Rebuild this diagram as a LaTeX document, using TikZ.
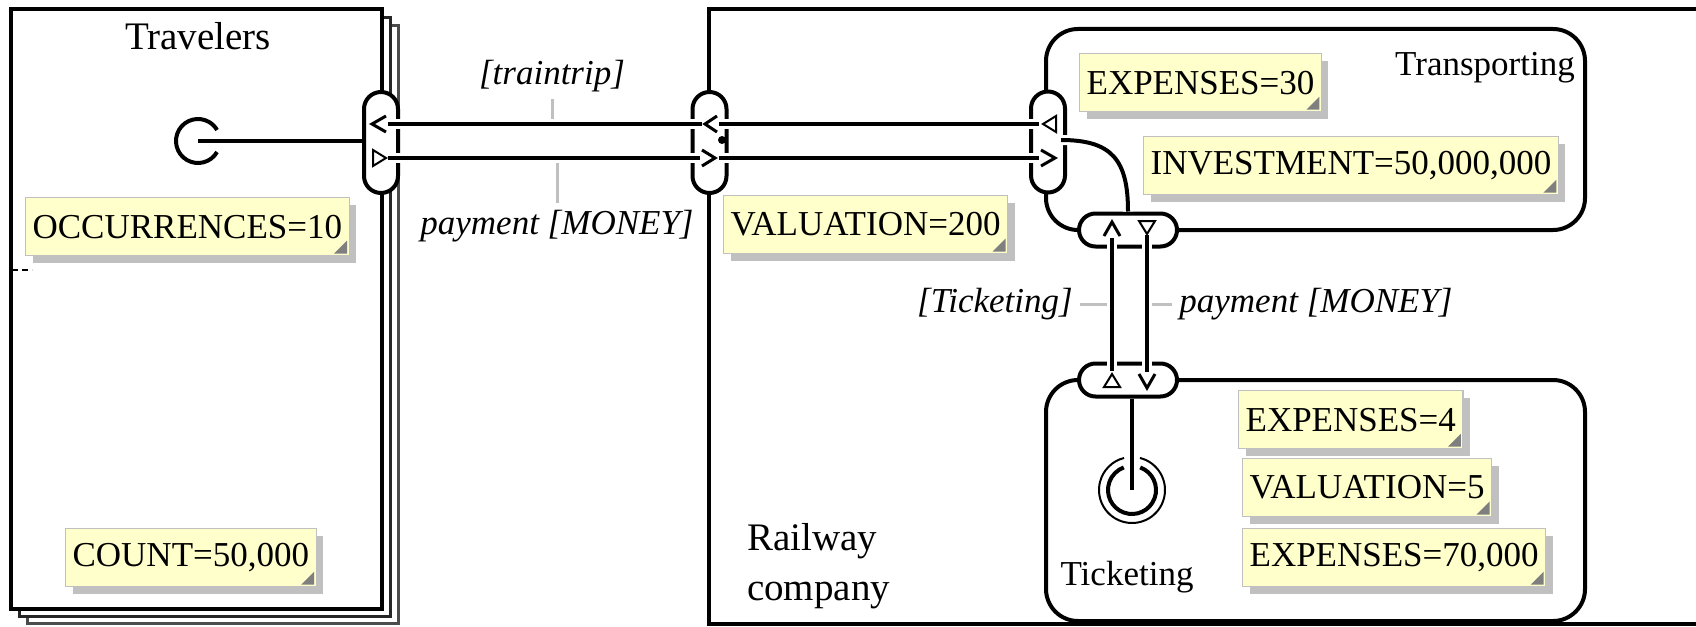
\documentclass[tikz,border=0pt]{standalone}
\usepackage{fontspec}
\setmainfont{Liberation Serif}
\usetikzlibrary{shadows,calc}
\definecolor{notefill}{HTML}{FFFFCC}
\definecolor{notegray}{HTML}{C0C0C0}
\definecolor{foldgray}{HTML}{7F7F7F}

\begin{document}
\begin{tikzpicture}[x=0.5pt,y=-0.5pt,
    every node/.style={font=\fontsize{17.5}{21}\selectfont},
    actorname/.style={font=\fontsize{19.5}{25}\selectfont},
    note/.style={draw=notegray, line width=0.6pt, fill=notefill, anchor=north west,
        inner xsep=3.5pt, minimum height=29pt,
        drop shadow={shadow xshift=3.5pt, shadow yshift=-3.5pt, fill=notegray, opacity=1},
        path picture={\fill[foldgray] ($(path picture bounding box.south east)+(-2,-15)$)
            -- ($(path picture bounding box.south east)+(-2,-2)$)
            -- ($(path picture bounding box.south east)+(-15,-2)$) -- cycle;}},
    vif/.style={draw, line width=2pt, fill=white, rounded corners=8.5pt, inner sep=0pt,
        minimum width=17pt, minimum height=50.5pt},
    hif/.style={draw, line width=2pt, fill=white, rounded corners=8.25pt, inner sep=0pt,
        minimum width=49pt, minimum height=16.5pt},
    exch/.style={line width=2pt, preaction={draw=white, line width=5pt}},
    chev/.style={line width=1.5pt},
    tri/.style={line width=1pt},
    tick/.style={draw=notegray, line width=1.5pt},
    lbl/.style={font=\fontsize{17.5}{21}\selectfont\itshape}]
    \useasboundingbox (0,0) rectangle (1696,626);

    % Travelers (market segment)
    \draw[line width=1.5pt, black!70] (27,26) rectangle (398,623);
    \draw[line width=1.5pt, black!85, fill=white] (19,18) rectangle (390,616);
    \draw[line width=2pt, fill=white] (11,9) rectangle (382,609);
    \node[actorname] (travelers) at (198,36) {Travelers};
    \draw[line width=0.6pt, dash pattern=on 3pt off 2pt] (12,270) -- (32,270);

    % Railway company
    \draw[line width=2pt] (1700,9) -- (709,9) -- (709,624) -- (1700,624);
    \node[actorname, align=left, anchor=west] (railway) at (740,566) {Railway\\company};

    % Transporting and Ticketing
    \draw[line width=2pt, rounded corners=16pt] (1046,29) rectangle (1585,230);
    \node (transporting) at (1485,68) {Transporting};
    \draw[line width=2pt, rounded corners=16pt] (1046,380) rectangle (1585,621);
    \node (ticketing) at (1127,577) {Ticketing};

    % Notes
    \node[note] (occ) at (25,197) {OCCURRENCES=10};
    \node[note] (count) at (65,528) {COUNT=50,000};
    \node[note] (val200) at (723,195) {VALUATION=200};
    \node[note] (exp30) at (1079,53) {EXPENSES=30};
    \node[note] (invest) at (1143,136) {INVESTMENT=50,000,000};
    \node[note] (exp4) at (1238,390) {EXPENSES=4};
    \node[note] (val5) at (1242,458) {VALUATION=5};
    \node[note] (exp70) at (1242,528) {EXPENSES=70,000};

    % Value interfaces
    \node[vif] (tr) at (381,142.5) {};
    \node[vif] (rc) at (709.5,142.5) {};
    \node[vif] (tp) at (1048,142) {};
    \node[hif] (tpb) at (1128,230) {};
    \node[hif] (tk) at (1128,380) {};

    % Port points
    \coordinate (tr-in) at (388,124);
    \coordinate (tr-out) at (388,158);
    \coordinate (rc-inl) at (702,124);
    \coordinate (rc-inr) at (719,124);
    \coordinate (rc-outl) at (700,158);
    \coordinate (rc-outr) at (719,158);
    \coordinate (tp-out) at (1039,124);
    \coordinate (tp-in) at (1039,158);
    \coordinate (tpb-in) at (1112,238);
    \coordinate (tpb-out) at (1147,235);
    \coordinate (tk-out) at (1112,371);
    \coordinate (tk-in) at (1147,372);

    % Labels and leaders
    \node[lbl] (traintrip) at (552,76) {[traintrip]};
    \node[lbl] (pay1) at (557,226) {payment [MONEY]};
    \node[lbl] (tkt) at (995,304) {[Ticketing]};
    \node[lbl] (pay2) at (1316,304) {payment [MONEY]};
    \draw[tick] (traintrip.south) -- (traintrip.south |- tr-in);
    \draw[tick] (pay1.north) -- (pay1.north |- tr-out);
    \draw[tick] (tkt.east) -- (tkt.east -| tk-out);
    \draw[tick] (pay2.west) -- (pay2.west -| tk-in);

    % Value exchanges
    \draw[exch] (tr-in) -- (rc-inl);
    \draw[exch] (rc-inr) -- (tp-out);
    \draw[exch] (tr-out) -- (rc-outl);
    \draw[exch] (rc-outr) -- (tp-in);
    \draw[exch] (tpb-in) -- (tk-out);
    \draw[exch] (tpb-out) -- (tk-in);

    % Ports
    \draw[chev] (386,116) -- (372,124) -- (386,132);
    \draw[tri] (373,150) -- (386,158) -- (373,166) -- cycle;
    \draw[chev] (717,116) -- (705,124) -- (717,132);
    \draw[chev] (702,150) -- (715,158) -- (702,166);
    \draw[tri] (1056,116) -- (1043,124) -- (1056,132) -- cycle;
    \draw[chev] (1041,150) -- (1055,158) -- (1041,166);
    \draw[chev] (1104,236) -- (1112,222) -- (1120,236);
    \draw[tri] (1139,221) -- (1155,221) -- (1147,234) -- cycle;
    \draw[tri] (1104,387) -- (1120,387) -- (1112,374) -- cycle;
    \draw[chev] (1139,374) -- (1147,388) -- (1155,374);
    \fill (722,140) circle[radius=4];

    % Start stimulus
    \coordinate (start) at (198,141);
    \draw[line width=2pt] (start) ++(30:22) arc[start angle=30, end angle=330, radius=22];
    \draw[exch] (start) -- (tr.west |- start);

    % Dependency path in Transporting
    \coordinate (tp-c) at (1061,140);
    \draw[exch] (tp-c) .. controls (1112,140) and (1128,160) .. (tpb.north);

    % End stimulus
    \coordinate (stop) at (1132,490);
    \draw[line width=2pt] (stop) ++(-70:24) arc[start angle=-70, end angle=250, radius=24];
    \draw[line width=1pt] (stop) ++(-76:33) arc[start angle=-76, end angle=256, radius=33];
    \draw[exch] (stop) -- (stop |- tk.south);
\end{tikzpicture}
\end{document}
